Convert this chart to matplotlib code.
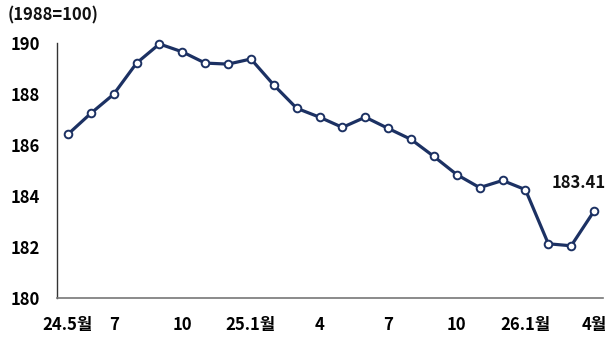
import numpy as np
import matplotlib.pyplot as plt

plt.rcParams['font.family'] = ['Noto Sans CJK KR', 'DejaVu Sans']

# monthly index, 2024.5 ~ 2026.4
values = [186.42, 187.24, 187.99, 189.21, 189.96, 189.65, 189.21, 189.17,
          189.37, 188.35, 187.44, 187.09, 186.69, 187.09, 186.65, 186.22,
          185.55, 184.84, 184.33, 184.61, 184.25, 182.13, 182.05, 183.41]
tick_pos = [0, 2, 5, 8, 11, 14, 17, 20, 23]
tick_labels = ['24.5월', '7', '10', '25.1월', '4', '7', '10', '26.1월', '4월']
yticks = [180, 182, 184, 186, 188, 190]

navy = '#1c3163'

fig = plt.figure(figsize=(6.06, 3.38), dpi=100)
ax = fig.add_axes([0.094, 0.118, 0.901, 0.755])

x = np.arange(len(values))
ax.plot(x, values, color=navy, lw=2.3, marker='o', ms=5.5,
        mfc='white', mec=navy, mew=1.4, zorder=3, clip_on=False)

ax.annotate(f'{values[-1]:.2f}', (x[-1], values[-1]), xytext=(-11, 14),
            textcoords='offset points', ha='center', va='bottom',
            fontsize=12, fontweight='bold', color='#111111')

ax.set_ylim(180, 190)
ax.set_xlim(-0.48, 23.39)
ax.set_yticks(yticks)
ax.set_yticklabels([str(v) for v in yticks], fontsize=12, fontweight='bold')
ax.set_xticks(tick_pos)
ax.set_xticklabels(tick_labels, fontsize=12, fontweight='bold')
ax.tick_params(length=0, pad=12)
ax.tick_params(axis='x', pad=13)

for s in ['top', 'right']:
    ax.spines[s].set_visible(False)
ax.spines['left'].set_color('#333333')
ax.spines['bottom'].set_color('#777777')
ax.spines['left'].set_linewidth(1.0)
ax.spines['bottom'].set_linewidth(1.2)

fig.text(0.013, 0.955, '(1988=100)', fontsize=12, fontweight='bold',
         va='center', ha='left', color='#111111')

fig.savefig('out.png', dpi=100)
